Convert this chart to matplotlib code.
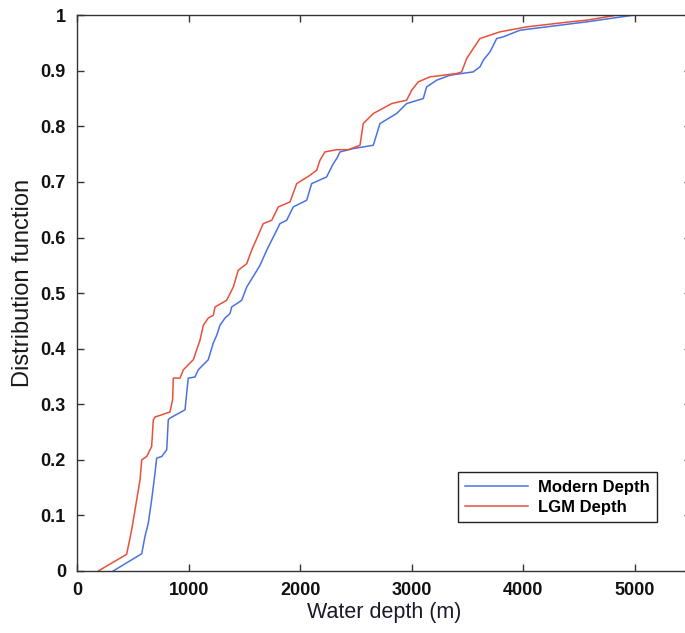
import numpy as np
import matplotlib
matplotlib.use('Agg')
import matplotlib.pyplot as plt
from matplotlib.ticker import FixedLocator, FixedFormatter

# Cumulative distribution of core-site water depth, modern vs. LGM sea level
modern_depth = [325, 580, 609, 639, 669, 699, 714, 759, 804, 818, 833, 968, 983, 997,
                1057, 1087, 1176, 1221, 1252, 1281, 1326, 1371, 1386, 1476, 1521, 1595,
                1640, 1700, 1819, 1879, 1938, 2058, 2103, 2237, 2297, 2327, 2357, 2417,
                2476, 2655, 2715, 2864, 2954, 3103, 3133, 3223, 3342, 3551, 3611, 3641,
                3701, 3761, 3820, 3970, 4328, 4567, 4985]
modern_cdf = [0, 0.031, 0.062, 0.086, 0.128, 0.176, 0.203, 0.206, 0.218, 0.272, 0.275,
              0.290, 0.320, 0.347, 0.349, 0.362, 0.380, 0.410, 0.424, 0.442, 0.455,
              0.463, 0.475, 0.487, 0.511, 0.535, 0.550, 0.577, 0.625, 0.631, 0.655,
              0.667, 0.697, 0.709, 0.733, 0.742, 0.754, 0.757, 0.760, 0.766, 0.805,
              0.823, 0.841, 0.850, 0.871, 0.883, 0.892, 0.898, 0.907, 0.919, 0.934,
              0.958, 0.961, 0.973, 0.982, 0.988, 1.0]

lgm_depth = [191, 445, 490, 565, 580, 625, 669, 684, 699, 833, 857, 863, 923, 953, 1042,
             1102, 1132, 1176, 1221, 1237, 1341, 1401, 1445, 1521, 1565, 1669, 1745,
             1804, 1909, 1969, 2088, 2148, 2177, 2222, 2327, 2431, 2536, 2565, 2655,
             2820, 2954, 2999, 3058, 3163, 3402, 3447, 3492, 3551, 3611, 3790, 4030,
             4418, 4567, 4836]
lgm_cdf = [0, 0.030, 0.074, 0.164, 0.200, 0.206, 0.224, 0.272, 0.277, 0.286, 0.308,
           0.347, 0.347, 0.362, 0.380, 0.415, 0.442, 0.455, 0.460, 0.475, 0.487, 0.511,
           0.541, 0.553, 0.577, 0.625, 0.631, 0.655, 0.664, 0.697, 0.712, 0.721, 0.739,
           0.754, 0.758, 0.758, 0.766, 0.805, 0.823, 0.841, 0.847, 0.865, 0.880, 0.889,
           0.895, 0.898, 0.922, 0.940, 0.958, 0.970, 0.979, 0.988, 0.991, 1.0]

x_ticks = [0, 1000, 2000, 3000, 4000, 5000]
y_ticks = [0, 0.1, 0.2, 0.3, 0.4, 0.5, 0.6, 0.7, 0.8, 0.9, 1]
y_tick_labels = ['0', '0.1', '0.2', '0.3', '0.4', '0.5', '0.6', '0.7', '0.8', '0.9', '1']

plt.rcParams['font.family'] = ['Liberation Sans', 'DejaVu Sans']

fig = plt.figure(figsize=(6.85, 6.33), dpi=100)
ax = fig.add_axes([0.1124, 0.098, 0.896, 0.878])

ax.plot(modern_depth, modern_cdf, color='#4a72e0', lw=1.1, label='Modern Depth')
ax.plot(lgm_depth, lgm_cdf, color='#e8503c', lw=1.1, label='LGM Depth')

ax.set_xlim(0, 5500)
ax.set_ylim(0, 1)
ax.xaxis.set_major_locator(FixedLocator(x_ticks))
ax.yaxis.set_major_locator(FixedLocator(y_ticks))
ax.yaxis.set_major_formatter(FixedFormatter(y_tick_labels))
ax.tick_params(direction='in', length=5, width=1, top=True, right=True,
               labelsize=13, pad=8, color='#333333', labelcolor='#111111')
for lbl in ax.get_xticklabels() + ax.get_yticklabels():
    lbl.set_fontweight('bold')
for sp in ax.spines.values():
    sp.set_color('#333333')
    sp.set_linewidth(1.0)

ax.set_xlabel('Water depth (m)', fontsize=15.5, labelpad=2, color='#1a1a2a')
ax.set_ylabel('Distribution function', fontsize=17, color='#1a1a1a')
ax.yaxis.set_label_coords(-0.070, 0.518)

leg = ax.legend(loc='lower right', bbox_to_anchor=(0.9446, 0.088), borderaxespad=0,
                prop={'size': 12, 'weight': 'bold'}, handlelength=3.8, fancybox=False,
                framealpha=1, edgecolor='#222222', borderpad=0.45, labelspacing=0.3,
                handletextpad=0.55)
leg.get_frame().set_linewidth(1.0)

fig.savefig('out.png', dpi=100)
